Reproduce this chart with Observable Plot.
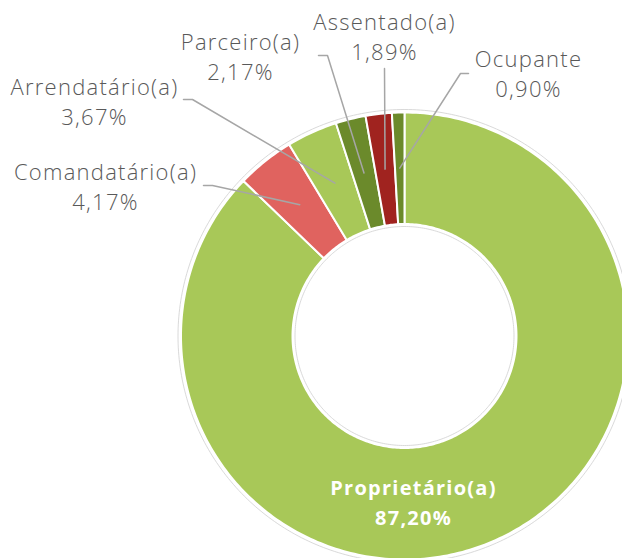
<!DOCTYPE html>
<html>
<head>
<meta charset="utf-8">
<script src="https://cdn.jsdelivr.net/npm/d3@7"></script>
<script src="https://cdn.jsdelivr.net/npm/@observablehq/plot@0.6"></script>
<style>
  html, body { margin: 0; padding: 0; background: #fff; overflow: hidden; }
  #chart svg { overflow: hidden; display: block; }
  #chart svg text { letter-spacing: 1.25px; }
</style>
</head>
<body>
<div id="chart"></div>
<script>
// ---- data ----
const categories = ["Proprietário(a)", "Comandatário(a)", "Arrendatário(a)", "Parceiro(a)", "Assentado(a)", "Ocupante"];
const shares = [87.20, 4.17, 3.67, 2.17, 1.89, 0.90];
const shareLabels = ["87,20%", "4,17%", "3,67%", "2,17%", "1,89%", "0,90%"];
const sliceColors = ["#a8c858", "#e0635f", "#a8c858", "#6b8a2b", "#a0231f", "#6b8a2b"];

// ---- layout (pixels in the 622x558 frame) ----
const W = 622, H = 558;
const cx = 404, cy = 335.5;          // ring centre
const rOuter = 223.5, rInner = 112;  // ring radii
const rLeader = 168;                 // where leader lines touch the slices
const labelPos = [[413, 500], [105, 185], [94, 100], [240, 55], [384, 34.5], [528, 72]];
const leaderStart = [null, [[203, 185], [212, 185]], [[183, 99], [192, 99]], [[318, 55], [327, 55]], [[384, 68]], [[468, 73], [460, 73]]];

// convert pixel to chart units (x right, y up, origin at ring centre)
const P = ([px, py]) => ({x: px - cx, y: cy - py});

// ---- build slices ----
const total = d3.sum(shares);
let cum = 0;
const slices = shares.map((v, i) => {
  const a0 = cum / total * 2 * Math.PI;
  cum += v;
  const a1 = cum / total * 2 * Math.PI;
  return {i, a0, a1, mid: (a0 + a1) / 2};
});

const slicePts = [];
for (const s of slices) {
  const n = Math.max(4, Math.ceil((s.a1 - s.a0) / (2 * Math.PI) * 360));
  for (let k = 0; k <= n; k++) {
    const a = s.a0 + (s.a1 - s.a0) * k / n;
    slicePts.push({k: s.i, color: sliceColors[s.i], x: rOuter * Math.sin(a), y: rOuter * Math.cos(a)});
  }
  for (let k = n; k >= 0; k--) {
    const a = s.a0 + (s.a1 - s.a0) * k / n;
    slicePts.push({k: s.i, color: sliceColors[s.i], x: rInner * Math.sin(a), y: rInner * Math.cos(a)});
  }
}

const ringPts = [];
for (const [id, r] of [["o", rOuter + 3], ["i", rInner - 2.5]]) {
  for (let k = 0; k < 360; k++) {
    const a = k / 360 * 2 * Math.PI;
    ringPts.push({k: id, x: r * Math.sin(a), y: r * Math.cos(a)});
  }
}

const leaderPts = [];
slices.forEach(s => {
  const st = leaderStart[s.i];
  if (!st) return;
  st.forEach(p => leaderPts.push({k: s.i, ...P(p)}));
  leaderPts.push({k: s.i, x: rLeader * Math.sin(s.mid), y: rLeader * Math.cos(s.mid)});
});

const outsideLabels = categories.map((c, i) => ({i, text: c + "\n" + shareLabels[i], ...P(labelPos[i])})).filter(d => d.i > 0);
const insideLabels = [{text: categories[0] + "\n" + shareLabels[0], ...P(labelPos[0])}];

const chart = Plot.plot({
  width: W,
  height: H,
  margin: 0,
  x: {domain: [-cx, W - cx], axis: null},
  y: {domain: [cy - H, cy], axis: null},
  color: {type: "identity"},
  style: {background: "#fff"},
  marks: [
    Plot.line(slicePts, {x: "x", y: "y", z: "k", fill: "color", stroke: "#fff", strokeWidth: 2, curve: "linear-closed"}),
    Plot.line(ringPts, {x: "x", y: "y", z: "k", stroke: "#cfcfcf", strokeWidth: 0.8, curve: "linear-closed"}),
    Plot.line(leaderPts, {x: "x", y: "y", z: "k", stroke: "#a6a6a6", strokeWidth: 1.5}),
    Plot.text(outsideLabels, {x: "x", y: "y", text: "text", fontSize: 22, lineHeight: 30 / 22, lineAnchor: "middle", fill: "#595959", fontFamily: "Open Sans", fontWeight: 300}),
    Plot.text(insideLabels, {x: "x", y: "y", text: "text", fontSize: 20, lineHeight: 1.5, lineAnchor: "middle", fill: "#fff", fontFamily: "Open Sans", fontWeight: 700})
  ]
});
document.getElementById("chart").append(chart);
</script>
</body>
</html>
